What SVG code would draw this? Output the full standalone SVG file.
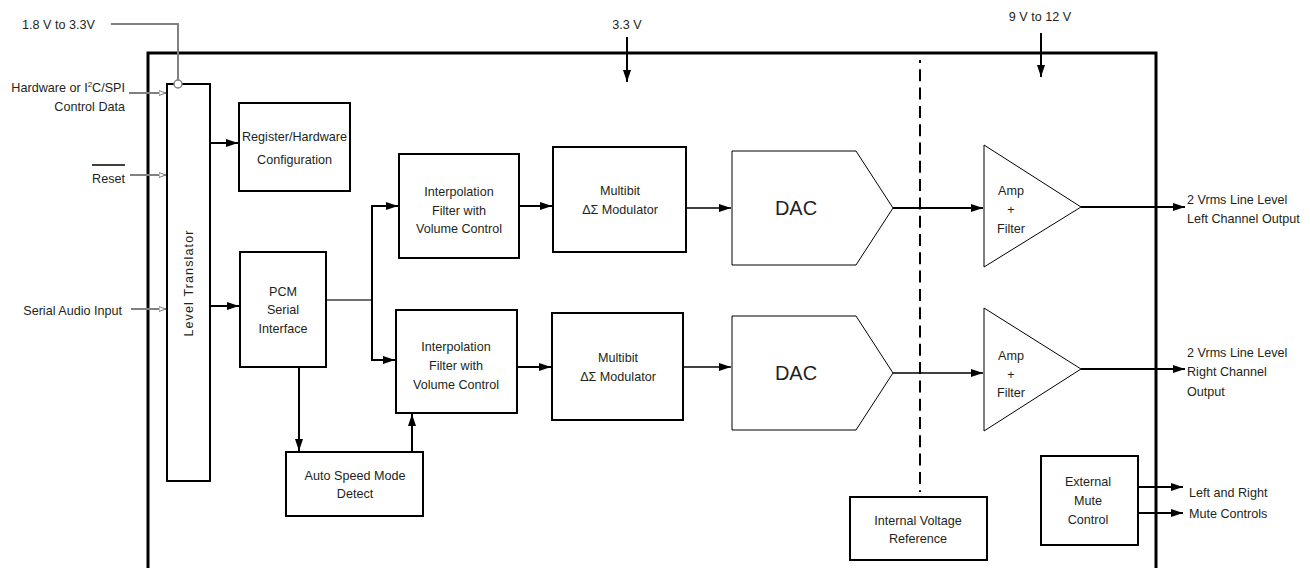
<svg xmlns="http://www.w3.org/2000/svg" width="1310" height="568" viewBox="0 0 1310 568">
<defs>
<marker id="ah" markerUnits="userSpaceOnUse" markerWidth="12" markerHeight="8" refX="12" refY="4" orient="auto">
<path d="M0,0 L12,4 L0,8 z" fill="#000"/>
</marker>
<marker id="ahg" markerUnits="userSpaceOnUse" markerWidth="8" markerHeight="6" refX="7.5" refY="3" orient="auto">
<path d="M0.5,0.5 L7,3 L0.5,5.5 z" fill="#fff" stroke="#808080" stroke-width="1"/>
</marker>
<style>
text{font-family:"Liberation Sans",Arial,sans-serif;font-size:12.6px;fill:#231f20}
.c{text-anchor:middle}
.e{text-anchor:end}
.box{fill:#fff;stroke:#000;stroke-width:2}
.thin{fill:#fff;stroke:#000;stroke-width:1}
.w{fill:none;stroke:#000;stroke-width:2}
.a{fill:none;stroke:#000;stroke-width:2;marker-end:url(#ah)}
.g{fill:none;stroke:#808080;stroke-width:2}
.ga{fill:none;stroke:#808080;stroke-width:2;marker-end:url(#ahg)}
.big{font-size:20px}
</style>
</defs>
<rect width="1310" height="568" fill="#fff"/>

<g id="chip-boundary">
<path d="M148,570 V53 H1156 V570" fill="none" stroke="#000" stroke-width="3"/>
<path d="M920,60 V492" fill="none" stroke="#000" stroke-width="2" stroke-dasharray="12 6.3" stroke-dashoffset="9"/>
</g>

<g id="connectors">
<path class="g" d="M111,24 H178 V80"/>
<path class="ga" d="M129,93 H166"/>
<path class="ga" d="M130,175 H166"/>
<path class="ga" d="M131,309 H166"/>
<path class="a" d="M210,143 H238"/>
<path class="a" d="M210,306 H239"/>
<path d="M326,300 H372" fill="none" stroke="#404040" stroke-width="1.5"/>
<path class="a" d="M372,300 V206 H398"/>
<path class="a" d="M372,300 V360 H395"/>
<path class="a" d="M299,367 V451"/>
<path class="a" d="M412,452 V414"/>
<path class="a" d="M519,206 H552"/>
<path class="a" d="M517,367 H551"/>
<path class="a" d="M686,208 H731" style="stroke-width:1.5"/>
<path class="a" d="M683,367 H731" style="stroke-width:1.5"/>
<path class="a" d="M893,208 H983"/>
<path class="a" d="M893,373 H983" style="stroke-width:1.5"/>
<path class="a" d="M1081,207 H1185"/>
<path class="a" d="M1081,369 H1185"/>
<path class="a" d="M627,37 V82"/>
<path class="a" d="M1041,33 V77"/>
<path class="a" d="M1124,487 H1183"/>
<path class="a" d="M1124,513 H1183"/>
</g>

<g id="external-labels">
<text x="22" y="28.5">1.8 V to 3.3V</text>
<text class="e" x="125" y="92">Hardware or I<tspan font-size="8" dy="-5">2</tspan><tspan dy="5">C/SPI</tspan></text>
<text class="e" x="125" y="111">Control Data</text>
<line x1="92" y1="165" x2="125" y2="165" stroke="#000" stroke-width="1.5"/>
<text class="e" x="125" y="182.5">Reset</text>
<text class="e" x="122" y="314.5">Serial Audio Input</text>
<text class="c" x="627" y="28.5">3.3 V</text>
<text class="c" x="1040" y="21">9 V to 12 V</text>
<text x="1187" y="203.5">2 Vrms Line Level</text>
<text x="1187" y="222.5">Left Channel Output</text>
<text x="1187" y="357">2 Vrms Line Level</text>
<text x="1187" y="376">Right Channel</text>
<text x="1187" y="396">Output</text>
<text x="1189" y="497">Left and Right</text>
<text x="1189" y="518">Mute Controls</text>
</g>

<g id="level-translator">
<rect class="box" x="167" y="84" width="43" height="397"/>
<circle cx="178" cy="84" r="4" fill="#fff" stroke="#808080" stroke-width="1.5"/>
<text class="c" transform="translate(192.5,283) rotate(-90)" letter-spacing="1.1">Level Translator</text>
</g>

<g id="register-config">
<rect class="box" x="239" y="103" width="111" height="88"/>
<text class="c" x="294.5" y="141">Register/Hardware</text>
<text class="c" x="294.5" y="163.5">Configuration</text>
</g>

<g id="pcm-serial">
<rect class="box" x="240" y="252" width="86" height="115"/>
<text class="c" x="283" y="295.5">PCM</text>
<text class="c" x="283" y="313.8">Serial</text>
<text class="c" x="283" y="332.8">Interface</text>
</g>

<g id="interp-left">
<rect class="box" x="399" y="154" width="120" height="104"/>
<text class="c" x="459" y="196">Interpolation</text>
<text class="c" x="459" y="214.5">Filter with</text>
<text class="c" x="459" y="233">Volume Control</text>
</g>

<g id="interp-right">
<rect class="box" x="396" y="310" width="121" height="103"/>
<text class="c" x="456" y="351">Interpolation</text>
<text class="c" x="456" y="369.5">Filter with</text>
<text class="c" x="456" y="388.5">Volume Control</text>
</g>

<g id="auto-speed">
<rect class="box" x="286" y="452" width="137" height="64"/>
<text class="c" x="355" y="479.5">Auto Speed Mode</text>
<text class="c" x="355" y="497.5">Detect</text>
</g>

<g id="modulator-left">
<rect class="box" x="553" y="147" width="133" height="105"/>
<text class="c" x="620" y="194.5">Multibit</text>
<text class="c" x="620" y="213.5">ΔΣ Modulator</text>
</g>

<g id="modulator-right">
<rect class="box" x="552" y="313" width="131" height="107"/>
<text class="c" x="618" y="362">Multibit</text>
<text class="c" x="618" y="381">ΔΣ Modulator</text>
</g>

<g id="dac-left">
<polygon class="thin" points="732,151 856,151 893,208 856,265 732,265"/>
<text class="c big" x="796" y="215">DAC</text>
</g>

<g id="dac-right">
<polygon class="thin" points="732,316 856,316 893,373 856,430 732,430"/>
<text class="c big" x="796" y="380">DAC</text>
</g>

<g id="amp-left">
<polygon class="thin" points="984,145 1081,207 984,267"/>
<text class="c" x="1011" y="195">Amp</text>
<text class="c" x="1011" y="214">+</text>
<text class="c" x="1011" y="232.5">Filter</text>
</g>

<g id="amp-right">
<polygon class="thin" points="984,308 1081,369 984,431"/>
<text class="c" x="1011" y="359.5">Amp</text>
<text class="c" x="1011" y="378.5">+</text>
<text class="c" x="1011" y="397">Filter</text>
</g>

<g id="voltage-reference">
<rect class="box" x="850" y="497" width="137" height="63"/>
<text class="c" x="918" y="524.5">Internal Voltage</text>
<text class="c" x="918" y="543">Reference</text>
</g>

<g id="mute-control">
<rect class="box" x="1041" y="456" width="97" height="89"/>
<text class="c" x="1088" y="486">External</text>
<text class="c" x="1088" y="505">Mute</text>
<text class="c" x="1088" y="524">Control</text>
</g>
</svg>
